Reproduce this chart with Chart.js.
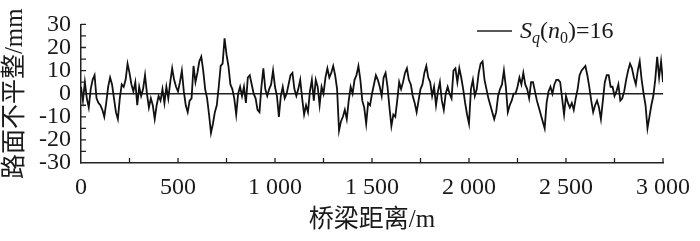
<!DOCTYPE html>
<html>
<head>
<meta charset="utf-8">
<script src="https://cdn.jsdelivr.net/npm/chart.js@4.4.1/dist/chart.umd.min.js"></script>
<style>
html, body { margin: 0; padding: 0; background: #fff; }
#wrap { width: 700px; height: 241px; }
</style>
</head>
<body>
<div id="wrap"><canvas id="chart" width="700" height="241"></canvas></div>
<script>
// 路面不平整 profile, one reading every 10 m (0 .. 3000 m)
const stepM = 10;
const roughness = [
    3, -3, 5, -2, -6, 2, 6, 8, -2, -4,          // 0
    -5, -7, -10, -4, 3, 7, 4, -2, -8, -11,      // 100
    -2, 4, 3, 6, 13, 9, 4, 1, 5, -5,            // 200
    3, -1, 2, 8, 0, -6, -2, -5, -11, -5,        // 300
    -1, -3, 2, -4, 3, -2, 5, 11, 6, 3,          // 400
    1, 5, 10, 1, -5, -8, -3, -2, 12, 5,         // 500
    9, 14, 16, 10, 2, -2, -9, -17, -13, -8,     // 600
    -5, 3, 12, 13, 24, 17, 12, 4, 2, -2,        // 700
    -9, 0, 3, -1, 3, -4, 7, 8, 4, 0,            // 800
    -2, -7, -8, 3, 11, 2, -1, 2, 4, 10,         // 900
    3, -1, -10, -1, 3, -2, 0, 4, 8, 9,          // 1000
    2, -1, 2, 6, -2, -9, -5, -8, 1, 6,          // 1100
    -3, 6, 3, -5, 3, 0, 7, 11, 7, 9,            // 1200
    12, 8, 2, -16, -12, -10, -7, -11, -3, 3,    // 1300
    0, 6, 8, 12, 6, -3, -6, -13, -4, -5,        // 1400
    0, 4, 8, 6, 3, -1, 7, 9, 3, -6,             // 1500
    -14, -9, -10, -3, 5, 2, 5, 9, 11, 6,        // 1600
    4, -1, -4, -8, -3, 2, 4, 9, 12, 7,          // 1700
    5, -1, 3, -5, 1, 5, -3, -7, 0, 3,           // 1800
    0, -2, 10, 11, 5, 11, 7, 2, -4, -9,         // 1900
    -13, 2, 6, -1, 2, 9, 13, 14, 6, 2,          // 2000
    -2, -5, -8, -11, -8, -1, 2, 4, 10, 3,       // 2100
    -8, -5, -3, 0, 0, 3, 7, 4, 9, 4,            // 2200
    2, -2, 5, 5, 1, -3, -6, -9, -12, -15,       // 2300
    -4, 1, 3, 0, 4, 6, 6, 5, -2, -9,            // 2400
    -1, -4, -6, -4, -7, -2, 2, 8, 10, 11,       // 2500
    12, 8, 3, -3, -8, -5, -3, -6, -11, -3,      // 2600
    5, 8, 8, 3, 3, -1, 1, 4, -3, -2,            // 2700
    1, 6, 10, 13, 11, 7, 4, 10, 14, 6,          // 2800
    0, -5, -15, -10, -5, -1, 6, 16, 7, 14,      // 2900
    5                                           // 3000
];
const distances = roughness.map((_, i) => i * stepM);

const xTickValues = [0, 500, 1000, 1500, 2000, 2500, 3000];
const xTickLabels = ['0', '500', '1 000', '1 500', '2 000', '2 500', '3 000'];
const yTickValues = [-30, -20, -10, 0, 10, 20, 30];
const xMinorTicks = [250, 500, 750, 1000, 1250, 1500, 1750, 2000, 2250, 2500, 2750, 3000];
const yMinorTicks = [-25, -20, -15, -10, -5, 0, 5, 10, 15, 20, 25, 30];

const serif = '"Liberation Serif", "Noto Sans CJK SC", serif';
const ink = '#1a1a1a';

// short tick marks pointing into the plot
const inwardTicks = {
    id: 'inwardTicks',
    afterDraw(chart) {
        const {ctx, scales: {x, y}} = chart;
        ctx.save();
        ctx.strokeStyle = '#222';
        ctx.lineWidth = 1.3;
        ctx.beginPath();
        yMinorTicks.forEach(v => {
            const py = y.getPixelForValue(v);
            ctx.moveTo(x.left, py);
            ctx.lineTo(x.left + 5, py);
        });
        xMinorTicks.forEach(v => {
            const px = x.getPixelForValue(v);
            ctx.moveTo(px, y.bottom);
            ctx.lineTo(px, y.bottom - 5);
        });
        ctx.stroke();
        ctx.restore();
    }
};

// legend with sub-scripts: S_q(n_0)=16
const subLegend = {
    id: 'subLegend',
    afterDraw(chart) {
        const ctx = chart.ctx;
        const ly = 31, base = 38;
        ctx.save();
        ctx.strokeStyle = '#222';
        ctx.lineWidth = 1.3;
        ctx.beginPath();
        ctx.moveTo(477, ly);
        ctx.lineTo(512, ly);
        ctx.stroke();
        ctx.fillStyle = ink;
        ctx.textBaseline = 'alphabetic';
        let cx = 520;
        const parts = [
            {t: 'S', f: 'italic 24px ' + serif, dy: 0},
            {t: 'q', f: 'italic 16px ' + serif, dy: 5},
            {t: '(', f: '24px ' + serif, dy: 0},
            {t: 'n', f: 'italic 24px ' + serif, dy: 0},
            {t: '0', f: '16px ' + serif, dy: 5},
            {t: ')=16', f: '24px ' + serif, dy: 0}
        ];
        parts.forEach(p => {
            ctx.font = p.f;
            ctx.fillText(p.t, cx, base + p.dy);
            cx += ctx.measureText(p.t).width;
        });
        ctx.restore();
    }
};

const ctx = document.getElementById('chart').getContext('2d');
new Chart(ctx, {
    type: 'line',
    data: {
        datasets: [{
            label: 'Sq(n0)=16',
            data: distances.map((d, i) => ({x: d, y: roughness[i]})),
            borderColor: '#111',
            borderWidth: 1.8,
            pointRadius: 0,
            tension: 0,
            fill: false
        }]
    },
    options: {
        responsive: false,
        animation: false,
        devicePixelRatio: 1,
        layout: { padding: { left: 0, right: 27, top: 18, bottom: 0 } },
        plugins: { legend: { display: false }, tooltip: { enabled: false } },
        scales: {
            x: {
                type: 'linear',
                min: 0,
                max: 3000,
                afterBuildTicks: s => { s.ticks = xTickValues.map(v => ({value: v})); },
                afterFit: s => { s.height = 78; },
                ticks: {
                    callback: v => xTickLabels[xTickValues.indexOf(v)],
                    font: { family: serif, size: 24 },
                    color: ink,
                    padding: 10,
                    maxRotation: 0,
                    autoSkip: false
                },
                grid: { display: false, drawTicks: false },
                border: { display: true, color: '#222', width: 1.5 },
                title: {
                    display: true,
                    text: '桥梁距离/m',
                    font: { family: serif, size: 25 },
                    color: ink,
                    padding: { top: 0, bottom: 6 }
                }
            },
            y: {
                min: -30,
                max: 30,
                afterBuildTicks: s => { s.ticks = yTickValues.map(v => ({value: v})); },
                afterFit: s => { s.width = 81; },
                ticks: {
                    font: { family: serif, size: 24 },
                    color: ink,
                    padding: 10,
                    autoSkip: false
                },
                grid: {
                    drawTicks: false,
                    color: c => (c.tick && c.tick.value === 0) ? '#222' : 'rgba(0,0,0,0)',
                    lineWidth: 1.4
                },
                border: { display: true, color: '#222', width: 1.5 },
                title: {
                    display: true,
                    text: '路面不平整/mm',
                    font: { family: serif, size: 25 },
                    color: ink,
                    padding: { top: 0, bottom: 0 }
                }
            }
        }
    },
    plugins: [inwardTicks, subLegend]
});
</script>
</body>
</html>
